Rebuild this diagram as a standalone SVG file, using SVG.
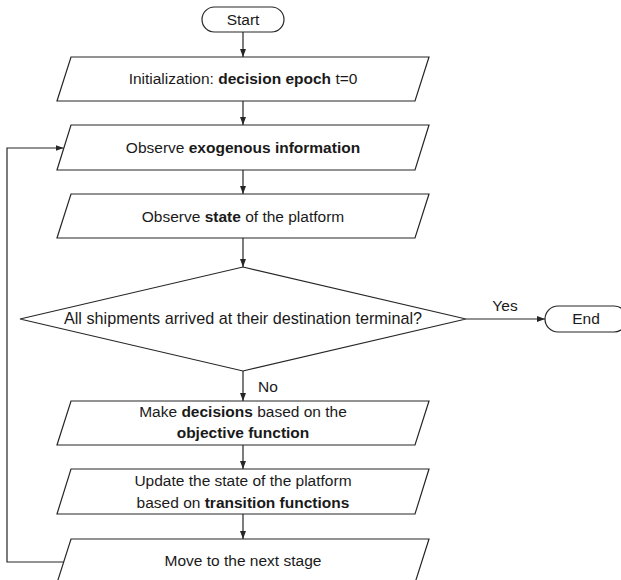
<svg xmlns="http://www.w3.org/2000/svg" width="621" height="580" viewBox="0 0 621 580">
<style>
.shape{fill:#ffffff;stroke:#262626;stroke-width:1.2}
.conn{fill:none;stroke:#262626;stroke-width:1.2}
text{font-family:"Liberation Sans",Arial,sans-serif;font-size:15.5px;fill:#1a1a1a;text-anchor:middle}
.b{font-weight:bold}
.q{font-size:16.2px}
</style>
<defs>
<marker id="arr" viewBox="0 0 8 6" refX="8" refY="3" markerWidth="8" markerHeight="6" markerUnits="userSpaceOnUse" orient="auto">
<path d="M0,0 L8,3 L0,6 Z" fill="#262626"/>
</marker>
</defs>
<rect width="621" height="580" fill="#ffffff"/>
<g id="connectors">
<line class="conn" x1="243" y1="32" x2="243" y2="57" marker-end="url(#arr)"/>
<line class="conn" x1="243" y1="101" x2="243" y2="125" marker-end="url(#arr)"/>
<line class="conn" x1="243" y1="170" x2="243" y2="194" marker-end="url(#arr)"/>
<line class="conn" x1="243" y1="238" x2="243" y2="267" marker-end="url(#arr)"/>
<line class="conn" x1="466" y1="319" x2="545" y2="319" marker-end="url(#arr)"/>
<line class="conn" x1="243" y1="371" x2="243" y2="401" marker-end="url(#arr)"/>
<line class="conn" x1="243" y1="445" x2="243" y2="469" marker-end="url(#arr)"/>
<line class="conn" x1="243" y1="514" x2="243" y2="539" marker-end="url(#arr)"/>
<polyline class="conn" points="64,562 7,562 7,148 63.5,148" marker-end="url(#arr)"/>
<text x="505" y="311">Yes</text>
<text x="268" y="392">No</text>
</g>
<g id="start">
<rect class="shape" x="202" y="7" width="82" height="25" rx="12.5"/>
<text x="243" y="25">Start</text>
</g>
<g id="init">
<polygon class="shape" points="71,57 429,57 415,101 57,101"/>
<text x="243" y="84">Initialization: <tspan class="b">decision epoch</tspan> t=0</text>
</g>
<g id="exo">
<polygon class="shape" points="71,125 429,125 415,170 57,170"/>
<text x="243" y="153">Observe <tspan class="b">exogenous information</tspan></text>
</g>
<g id="state">
<polygon class="shape" points="71,194 429,194 415,238 57,238"/>
<text x="243" y="222">Observe <tspan class="b">state</tspan> of the platform</text>
</g>
<g id="decision">
<polygon class="shape" points="243,267 466,319 243,371 20,319"/>
<text class="q" x="243" y="324">All shipments arrived at their destination terminal?</text>
</g>
<g id="end">
<rect class="shape" x="545" y="306" width="82" height="26" rx="13"/>
<text x="586" y="324">End</text>
</g>
<g id="decide">
<polygon class="shape" points="71,401 429,401 415,445 57,445"/>
<text x="243" y="417">Make <tspan class="b">decisions</tspan> based on the</text>
<text x="243" y="438"><tspan class="b">objective function</tspan></text>
</g>
<g id="update">
<polygon class="shape" points="71,469 429,469 415,514 57,514"/>
<text x="243" y="486">Update the state of the platform</text>
<text x="243" y="508">based on <tspan class="b">transition functions</tspan></text>
</g>
<g id="next">
<polygon class="shape" points="71,539 429,539 415,583 57,583"/>
<text x="243" y="566">Move to the next stage</text>
</g>
</svg>
